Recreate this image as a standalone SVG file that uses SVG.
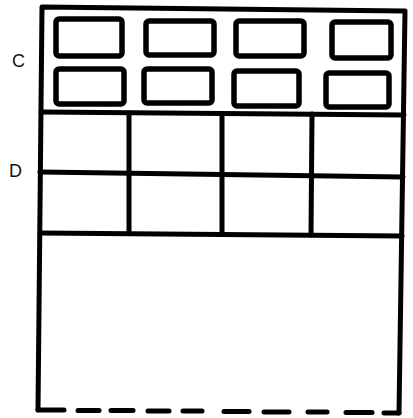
<svg xmlns="http://www.w3.org/2000/svg" width="413" height="418" viewBox="0 0 413 418">
<style>
.ln{fill:none;stroke:#000;stroke-width:5;stroke-linecap:round;stroke-linejoin:round}
.box{fill:none;stroke:#000;stroke-width:5.5}
.lbl{font-family:"Liberation Sans",Arial,sans-serif;font-size:18px;fill:#111}
</style>
<rect width="413" height="418" fill="#fff"/>
<g id="frame">
<polyline class="ln" points="38,410 42,7 405,11 399,413"/>
</g>
<g id="C">
<text class="lbl" x="12" y="67">C</text>
<rect class="box" x="56" y="19" width="66" height="37" rx="3"/>
<rect class="box" x="146" y="21" width="68" height="34" rx="3"/>
<rect class="box" x="236" y="21" width="68" height="35" rx="3"/>
<rect class="box" x="332" y="22" width="59" height="36" rx="3"/>
<rect class="box" x="56" y="69" width="68" height="35" rx="3"/>
<rect class="box" x="144" y="69" width="68" height="34" rx="3"/>
<rect class="box" x="234" y="71" width="65" height="35" rx="3"/>
<rect class="box" x="326" y="73" width="63" height="34" rx="3"/>
</g>
<g id="D">
<text class="lbl" x="9" y="177">D</text>
<line class="ln" x1="41" y1="112" x2="404" y2="115"/>
<line class="ln" x1="40" y1="172" x2="403" y2="177"/>
<line class="ln" x1="40" y1="233" x2="402" y2="236"/>
<line class="ln" x1="129" y1="113" x2="129" y2="233"/>
<line class="ln" x1="222" y1="114" x2="222" y2="234"/>
<line class="ln" x1="312" y1="114" x2="311" y2="235"/>
</g>
<g id="bottom">
<line class="ln" x1="38" y1="410" x2="64" y2="410"/>
<line class="ln" x1="78" y1="410.5" x2="99" y2="410.5"/>
<line class="ln" x1="111" y1="410.5" x2="133" y2="410.5"/>
<line class="ln" x1="148" y1="411" x2="169" y2="411"/>
<line class="ln" x1="183" y1="411" x2="202" y2="411"/>
<line class="ln" x1="224" y1="411.5" x2="249" y2="411.5"/>
<line class="ln" x1="264" y1="412" x2="289" y2="412"/>
<line class="ln" x1="308" y1="412" x2="327" y2="412"/>
<line class="ln" x1="346" y1="412.5" x2="372" y2="412.5"/>
<line class="ln" x1="384" y1="413" x2="399" y2="413"/>
</g>
</svg>
